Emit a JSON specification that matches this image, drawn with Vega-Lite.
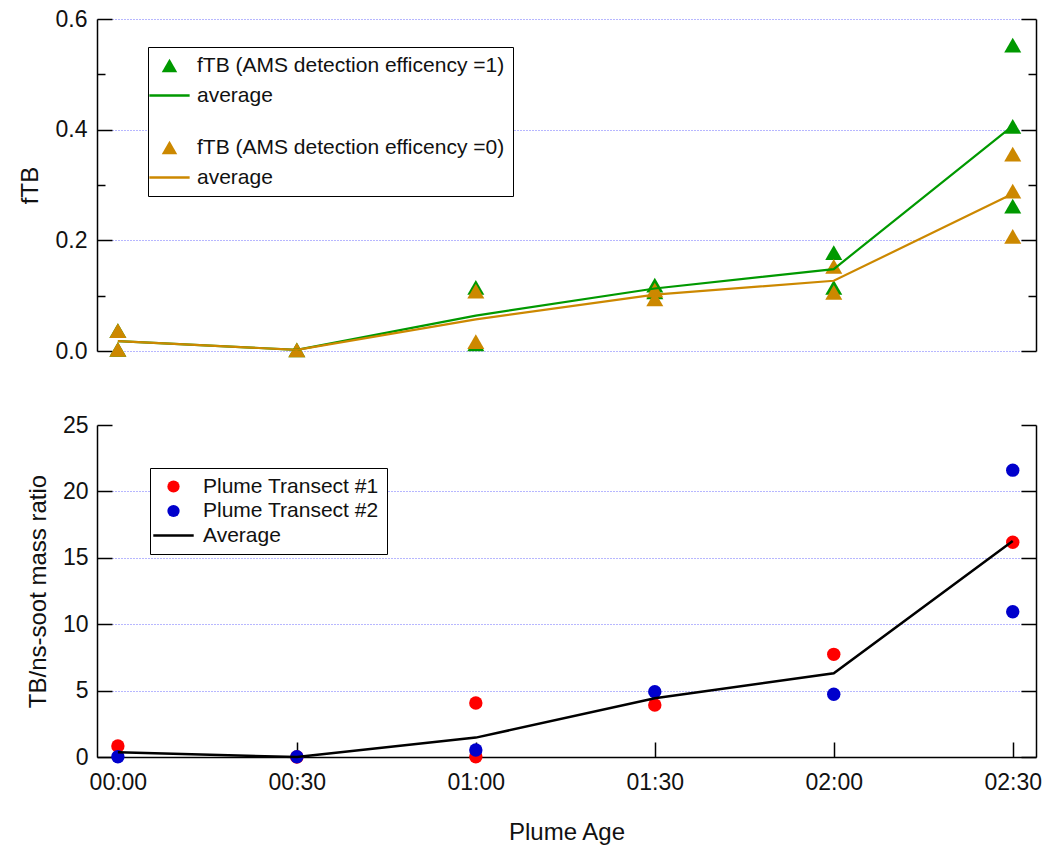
{
  "$schema": "https://vega.github.io/schema/vega-lite/v6.json",
  "background": "white",
  "padding": {"left": 18, "top": 8, "right": 8, "bottom": 8},
  "config": {
    "font": "Liberation Sans",
    "view": {"stroke": null},
    "axis": {
      "labelFont": "Liberation Sans", "labelFontSize": 23, "labelColor": "#111111",
      "titleFont": "Liberation Sans", "titleFontSize": 24, "titleFontWeight": "normal", "titleColor": "#111111",
      "domainColor": "#000000", "domainWidth": 1.5, "tickColor": "#000000", "tickWidth": 1.5,
      "gridColor": "#4d4dff", "gridDash": [1, 2], "gridWidth": 1, "gridOpacity": 0.9
    },
    "legend": {
      "labelFont": "Liberation Sans", "labelColor": "#111111", "labelLimit": 500
    }
  },
  "datasets": {
    "top": [
      {"t": 0, "v": 0.037, "s": "fTB (AMS detection efficency =1)", "k": "pt"},
      {"t": 0, "v": 0.003, "s": "fTB (AMS detection efficency =1)", "k": "pt"},
      {"t": 30, "v": 0.002, "s": "fTB (AMS detection efficency =1)", "k": "pt"},
      {"t": 60, "v": 0.115, "s": "fTB (AMS detection efficency =1)", "k": "pt"},
      {"t": 60, "v": 0.013, "s": "fTB (AMS detection efficency =1)", "k": "pt"},
      {"t": 90, "v": 0.119, "s": "fTB (AMS detection efficency =1)", "k": "pt"},
      {"t": 90, "v": 0.107, "s": "fTB (AMS detection efficency =1)", "k": "pt"},
      {"t": 120, "v": 0.178, "s": "fTB (AMS detection efficency =1)", "k": "pt"},
      {"t": 120, "v": 0.115, "s": "fTB (AMS detection efficency =1)", "k": "pt"},
      {"t": 150, "v": 0.553, "s": "fTB (AMS detection efficency =1)", "k": "pt"},
      {"t": 150, "v": 0.406, "s": "fTB (AMS detection efficency =1)", "k": "pt"},
      {"t": 150, "v": 0.262, "s": "fTB (AMS detection efficency =1)", "k": "pt"},
      {"t": 0, "v": 0.037, "s": "fTB (AMS detection efficency =0)", "k": "pt"},
      {"t": 0, "v": 0.003, "s": "fTB (AMS detection efficency =0)", "k": "pt"},
      {"t": 30, "v": 0.002, "s": "fTB (AMS detection efficency =0)", "k": "pt"},
      {"t": 60, "v": 0.108, "s": "fTB (AMS detection efficency =0)", "k": "pt"},
      {"t": 60, "v": 0.017, "s": "fTB (AMS detection efficency =0)", "k": "pt"},
      {"t": 90, "v": 0.110, "s": "fTB (AMS detection efficency =0)", "k": "pt"},
      {"t": 90, "v": 0.094, "s": "fTB (AMS detection efficency =0)", "k": "pt"},
      {"t": 120, "v": 0.153, "s": "fTB (AMS detection efficency =0)", "k": "pt"},
      {"t": 120, "v": 0.106, "s": "fTB (AMS detection efficency =0)", "k": "pt"},
      {"t": 150, "v": 0.356, "s": "fTB (AMS detection efficency =0)", "k": "pt"},
      {"t": 150, "v": 0.289, "s": "fTB (AMS detection efficency =0)", "k": "pt"},
      {"t": 150, "v": 0.207, "s": "fTB (AMS detection efficency =0)", "k": "pt"},
      {"t": 0, "v": 0.018, "s": "average", "k": "avg"},
      {"t": 30, "v": 0.002, "s": "average", "k": "avg"},
      {"t": 60, "v": 0.064, "s": "average", "k": "avg"},
      {"t": 90, "v": 0.113, "s": "average", "k": "avg"},
      {"t": 120, "v": 0.148, "s": "average", "k": "avg"},
      {"t": 150, "v": 0.407, "s": "average", "k": "avg"},
      {"t": 0, "v": 0.018, "s": "average ", "k": "avg"},
      {"t": 30, "v": 0.002, "s": "average ", "k": "avg"},
      {"t": 60, "v": 0.057, "s": "average ", "k": "avg"},
      {"t": 90, "v": 0.102, "s": "average ", "k": "avg"},
      {"t": 120, "v": 0.127, "s": "average ", "k": "avg"},
      {"t": 150, "v": 0.284, "s": "average ", "k": "avg"}
    ],
    "bottom": [
      {"t": 0, "v": 0.83, "s": "Plume Transect #1", "k": "pt"},
      {"t": 30, "v": 0.0, "s": "Plume Transect #1", "k": "pt"},
      {"t": 60, "v": 4.07, "s": "Plume Transect #1", "k": "pt"},
      {"t": 60, "v": 0.02, "s": "Plume Transect #1", "k": "pt"},
      {"t": 90, "v": 3.92, "s": "Plume Transect #1", "k": "pt"},
      {"t": 120, "v": 7.73, "s": "Plume Transect #1", "k": "pt"},
      {"t": 150, "v": 16.17, "s": "Plume Transect #1", "k": "pt"},
      {"t": 0, "v": 0.02, "s": "Plume Transect #2", "k": "pt"},
      {"t": 30, "v": 0.02, "s": "Plume Transect #2", "k": "pt"},
      {"t": 60, "v": 0.53, "s": "Plume Transect #2", "k": "pt"},
      {"t": 90, "v": 4.92, "s": "Plume Transect #2", "k": "pt"},
      {"t": 120, "v": 4.72, "s": "Plume Transect #2", "k": "pt"},
      {"t": 150, "v": 21.6, "s": "Plume Transect #2", "k": "pt"},
      {"t": 150, "v": 10.94, "s": "Plume Transect #2", "k": "pt"},
      {"t": 0, "v": 0.35, "s": "Average", "k": "avg"},
      {"t": 30, "v": 0.0, "s": "Average", "k": "avg"},
      {"t": 60, "v": 1.46, "s": "Average", "k": "avg"},
      {"t": 90, "v": 4.42, "s": "Average", "k": "avg"},
      {"t": 120, "v": 6.3, "s": "Average", "k": "avg"},
      {"t": 150, "v": 16.27, "s": "Average", "k": "avg"}
    ]
  },
  "bounds": "flush",
  "spacing": 74,
  "resolve": {"scale": {"color": "independent", "shape": "independent", "x": "independent", "y": "independent"}, "legend": {"color": "independent", "shape": "independent"}},
  "vconcat": [
    {
      "width": 939,
      "height": 332,
      "data": {"name": "top"},
      "resolve": {"axis": {"y": "independent"}},
      "layer": [
        {
          "transform": [{"filter": "datum.k == 'pt'"}],
          "mark": {"type": "point", "filled": true, "size": 290, "opacity": 1},
          "encoding": {
            "x": {"field": "t", "type": "quantitative", "scale": {"domain": [-3.5, 153.9], "nice": false, "zero": false}, "axis": null},
            "y": {"field": "v", "type": "quantitative", "scale": {"domain": [0, 0.6], "nice": false},
              "axis": {"orient": "left", "title": "fTB", "values": [0, 0.1, 0.2, 0.3, 0.4, 0.5, 0.6],
                "labelExpr": "abs(datum.value*5 - round(datum.value*5)) < 0.01 ? format(datum.value, '.1f') : ''",
                "domain": true, "ticks": true,
                "tickSize": {"condition": {"test": "abs(datum.value*5 - round(datum.value*5)) < 0.01", "value": -15}, "value": -8},
                "gridOpacity": {"condition": {"test": "abs(datum.value*5 - round(datum.value*5)) < 0.01", "value": 0.9}, "value": 0},
                "grid": true, "labelPadding": 25, "titlePadding": 13}},
            "color": {"field": "s", "type": "nominal",
              "scale": {"domain": ["fTB (AMS detection efficency =1)", "average", " ", "fTB (AMS detection efficency =0)", "average "],
                "range": ["#009900", "#009900", "#ffffff", "#cc8800", "#cc8800"]},
              "legend": {
                "title": null, "orient": "none", "legendX": 51, "legendY": 28,
                "strokeColor": "#000000", "fillColor": "#ffffff", "padding": 8,
                "labelFontSize": {"expr": "datum.value == ' ' ? 6 : 21"},
                "symbolSize": 240, "rowPadding": 8, "symbolOffset": 3, "labelOffset": 17, "symbolOpacity": 1,
                "symbolStrokeWidth": {"expr": "indexof(['average','average '], datum.value) >= 0 ? 2.5 : 0"},
                "symbolStrokeColor": {"expr": "datum.value == 'average' ? '#009900' : datum.value == 'average ' ? '#cc8800' : 'transparent'"}
              }},
            "shape": {"field": "s", "type": "nominal",
              "scale": {"domain": ["fTB (AMS detection efficency =1)", "average", " ", "fTB (AMS detection efficency =0)", "average "],
                "range": ["triangle-up", "M-2.6,0H2.6", "M0,0", "triangle-up", "M-2.6,0H2.6"]},
              "legend": {
                "title": null, "orient": "none", "legendX": 51, "legendY": 28,
                "strokeColor": "#000000", "fillColor": "#ffffff", "padding": 8,
                "labelFontSize": {"expr": "datum.value == ' ' ? 6 : 21"},
                "symbolSize": 240, "rowPadding": 8, "symbolOffset": 3, "labelOffset": 17, "symbolOpacity": 1,
                "symbolStrokeWidth": {"expr": "indexof(['average','average '], datum.value) >= 0 ? 2.5 : 0"},
                "symbolStrokeColor": {"expr": "datum.value == 'average' ? '#009900' : datum.value == 'average ' ? '#cc8800' : 'transparent'"}
              }}
          }
        },
        {
          "transform": [{"filter": "datum.k == 'avg'"}],
          "mark": {"type": "line", "strokeWidth": 2.2},
          "encoding": {
            "x": {"field": "t", "type": "quantitative", "scale": {"domain": [-3.5, 153.9], "nice": false, "zero": false}, "axis": null},
            "y": {"field": "v", "type": "quantitative", "scale": {"domain": [0, 0.6], "nice": false},
              "axis": {"orient": "right", "title": null, "labels": false, "grid": false, "values": [0, 0.1, 0.2, 0.3, 0.4, 0.5, 0.6],
                "tickSize": {"condition": {"test": "abs(datum.value*5 - round(datum.value*5)) < 0.01", "value": -15}, "value": -8}}},
            "color": {"field": "s", "type": "nominal"}
          }
        }
      ]
    },
    {
      "width": 939,
      "height": 332,
      "data": {"name": "bottom"},
      "resolve": {"axis": {"y": "independent"}},
      "layer": [
        {
          "transform": [{"filter": "datum.k == 'pt'"}],
          "mark": {"type": "point", "filled": true, "size": 180, "opacity": 1},
          "encoding": {
            "x": {"field": "t", "type": "quantitative", "scale": {"domain": [-3.5, 153.9], "nice": false, "zero": false},
              "axis": {"title": "Plume Age", "values": [0, 30, 60, 90, 120, 150], "tickSize": -15, "labelPadding": 29, "titlePadding": 26, "grid": false,
                "labelExpr": "(floor(datum.value/60) < 10 ? '0' : '') + floor(datum.value/60) + ':' + (datum.value % 60 < 10 ? '0' : '') + (datum.value % 60)"}},
            "y": {"field": "v", "type": "quantitative", "scale": {"domain": [0, 25], "nice": false},
              "axis": {"orient": "left", "title": "TB/ns-soot mass ratio", "values": [0, 5, 10, 15, 20, 25],
                "tickSize": -15, "labelPadding": 24, "titlePadding": 12,
                "gridOpacity": {"condition": {"test": "datum.value > 0 && datum.value < 25", "value": 0.9}, "value": 0}, "grid": true}},
            "color": {"field": "s", "type": "nominal",
              "scale": {"domain": ["Plume Transect #1", "Plume Transect #2", "Average"], "range": ["#ff0000", "#0000cc", "#000000"]},
              "legend": {
                "title": null, "orient": "none", "legendX": 53, "legendY": 43,
                "strokeColor": "#000000", "fillColor": "#ffffff", "padding": 8,
                "labelFontSize": 21, "symbolSize": 150, "rowPadding": 2.5,
                "symbolOffset": 5, "labelOffset": 19, "symbolOpacity": 1,
                "symbolStrokeWidth": {"expr": "datum.value == 'Average' ? 2.5 : 0"},
                "symbolStrokeColor": {"expr": "datum.value == 'Average' ? '#000000' : 'transparent'"}
              }},
            "shape": {"field": "s", "type": "nominal",
              "scale": {"domain": ["Plume Transect #1", "Plume Transect #2", "Average"], "range": ["circle", "circle", "M-3.3,0H3.3"]},
              "legend": {
                "title": null, "orient": "none", "legendX": 53, "legendY": 43,
                "strokeColor": "#000000", "fillColor": "#ffffff", "padding": 8,
                "labelFontSize": 21, "symbolSize": 150, "rowPadding": 2.5,
                "symbolOffset": 5, "labelOffset": 19, "symbolOpacity": 1,
                "symbolStrokeWidth": {"expr": "datum.value == 'Average' ? 2.5 : 0"},
                "symbolStrokeColor": {"expr": "datum.value == 'Average' ? '#000000' : 'transparent'"}
              }}
          }
        },
        {
          "transform": [{"filter": "datum.k == 'avg'"}],
          "mark": {"type": "line", "strokeWidth": 2.5},
          "encoding": {
            "x": {"field": "t", "type": "quantitative", "scale": {"domain": [-3.5, 153.9], "nice": false, "zero": false}},
            "y": {"field": "v", "type": "quantitative", "scale": {"domain": [0, 25], "nice": false},
              "axis": {"orient": "right", "title": null, "labels": false, "grid": false, "values": [0, 5, 10, 15, 20, 25], "tickSize": -15}},
            "color": {"field": "s", "type": "nominal"}
          }
        }
      ]
    }
  ]
}
